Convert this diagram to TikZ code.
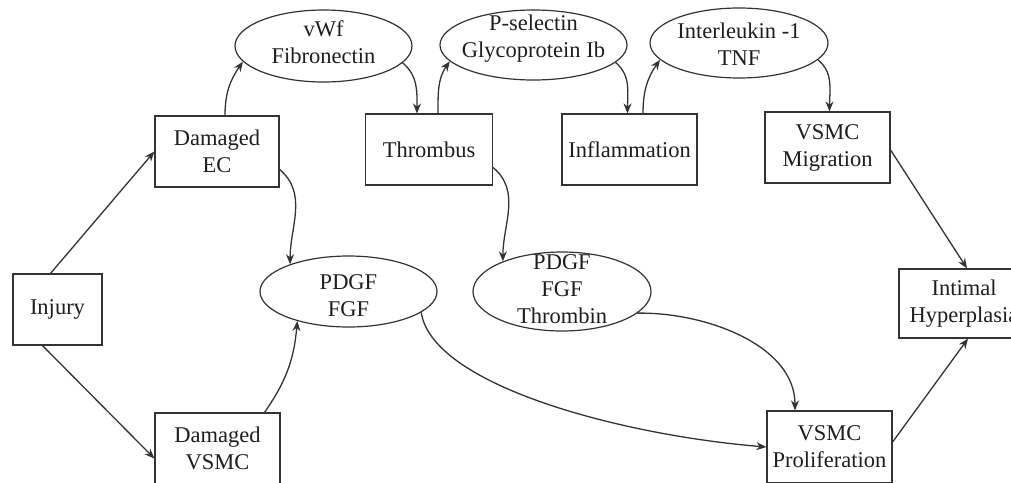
\documentclass[tikz,border=0pt]{standalone}
\usepackage{fontspec}
\setmainfont{Liberation Serif}
\usetikzlibrary{shapes.geometric,arrows.meta}
\definecolor{linegray}{HTML}{333333}
\definecolor{txt}{HTML}{1E1E1E}
\newcommand{\dfont}{\fontsize{22.5}{27}\selectfont}
\tikzset{
  box/.style={draw=linegray, line width=1.2pt, rectangle, inner sep=2pt, align=center, font=\dfont, text=txt},
  bubble/.style={draw=linegray, line width=1.2pt, ellipse, inner sep=0pt},
  btext/.style={align=center, font=\dfont, text=txt, inner sep=0pt},
  arr/.style={draw=linegray, line width=1.3pt, -{Stealth[length=10pt,width=8pt]}}
}
\begin{document}
\begin{tikzpicture}[x=1pt,y=-1pt]
\useasboundingbox (0,0) rectangle (1011,482);
\fill[white] (0,0) rectangle (1011,482);
\clip (0,0) rectangle (1011,482);

% boxes
\node[box, minimum width=89pt, minimum height=71pt] (injury) at (57.5,309.5) {Injury};
\node[box, minimum width=124pt, minimum height=71pt] (ec) at (217,151.5) {Damaged\\EC};
\node[box, minimum width=125pt, minimum height=71pt] (dvsmc) at (217.5,448.5) {Damaged\\VSMC};
\node[box, minimum width=127pt, minimum height=71pt] (thr) at (429,149.5) {Thrombus};
\node[box, minimum width=135pt, minimum height=71pt] (infl) at (629.5,149.5) {Inflammation};
\node[box, minimum width=125pt, minimum height=71pt] (mig) at (827.5,147.5) {VSMC\\Migration};
\node[box, minimum width=130pt, minimum height=69pt] (intim) at (964,303.5) {Intimal\\Hyperplasia};
\node[box, minimum width=125pt, minimum height=72pt] (prolif) at (829.5,447) {VSMC\\Proliferation};

% ellipses
\node[bubble, minimum width=177pt, minimum height=72pt] (vwf) at (323.5,46) {};
\node[btext] (vwft) at (323.5,42) {vWf\\Fibronectin};
\node[bubble, minimum width=187pt, minimum height=70pt] (psel) at (533.5,45) {};
\node[btext] (pselt) at (533.5,39) {P-selectin\\Glycoprotein Ib};
\node[bubble, minimum width=178pt, minimum height=70pt] (il) at (739,43) {};
\node[btext] (ilt) at (739,44) {Interleukin -1\\TNF};
\node[bubble, minimum width=177pt, minimum height=71pt] (pdgf) at (348.5,291.5) {};
\node[btext] (pdgft) at (348.5,296) {PDGF\\FGF};
\node[bubble, minimum width=178pt, minimum height=79pt] (pft) at (562,291.5) {};
\node[btext] (pftt) at (562,289) {PDGF\\FGF\\Thrombin};

% connectors
\draw[arr] ([xshift=-7pt]injury.north) -- (ec.west);
\draw[arr] ([xshift=-15pt]injury.south) -- ([yshift=-10pt]dvsmc.west);
\draw[arr] ([xshift=8pt]ec.north) to[out=90,in=235] (vwf.191);
\draw[arr] ([yshift=-18pt]ec.east) to[out=-40,in=90] (pdgf.155);
\draw[arr] ([xshift=47pt]dvsmc.north) to[out=55,in=-95] (pdgf.210);
\draw[arr] (vwf.-12) to[out=-40,in=90] ([xshift=-12pt]thr.north);
\draw[arr] ([xshift=9pt]thr.north) to[out=90,in=235] (psel.191);
\draw[arr] (psel.-12) to[out=-40,in=90] ([xshift=-2pt]infl.north);
\draw[arr] ([xshift=13.5pt]infl.north) to[out=90,in=235] (il.192);
\draw[arr] (il.-12) to[out=-40,in=90] ([xshift=2pt]mig.north);
\draw[arr] ([yshift=-18pt]thr.east) to[out=-40,in=90] (pft.153);
\draw[arr] (pdgf.-16) .. controls (432,385) and (620,435) .. (prolif.west);
\draw[arr] (pft.-16) .. controls (705,312) and (795,345) .. ([xshift=-34.5pt]prolif.north);
\draw[arr] ([yshift=5pt]prolif.east) -- ([xshift=4pt]intim.south);
\draw[arr] ([yshift=-2.5pt]mig.east) -- ([xshift=3pt]intim.north);
\end{tikzpicture}
\end{document}
